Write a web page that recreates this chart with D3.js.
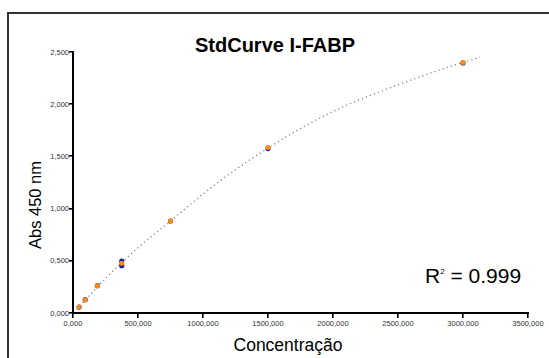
<!DOCTYPE html>
<meta charset="utf-8">
<style>
    body { margin: 0; background: #fff; }
    svg text { font-family: "Liberation Sans", Arial, sans-serif; }
</style>
<svg width="549" height="358"></svg>
<script src="https://cdnjs.cloudflare.com/ajax/libs/d3/7.8.5/d3.min.js"></script>
<script>

    // standard concentrations and the replicate absorbances
    const conc = [46.875, 93.75, 187.5, 375, 750, 1500, 3000];
    const absRep1 = [0.057, 0.128, 0.262, 0.453, 0.881, 1.575, 2.395];
    const absRep2 = [0.057, 0.128, 0.262, 0.476, 0.881, 1.585, 2.400];
    const extraConc = [375];
    const extraAbs = [0.498];

    // fitted curve
    const fitConc = [30, 250, 500, 750, 1000, 1500, 2000, 2500, 3000, 3130];
    const fitAbs = [0.035, 0.33, 0.625, 0.88, 1.14, 1.58, 1.93, 2.185, 2.4, 2.45];

    const xTicks = [0, 500, 1000, 1500, 2000, 2500, 3000, 3500];
    const yTicks = [0, 0.5, 1, 1.5, 2, 2.5];

    var svg = d3.select("svg");

    // frame (left + top only)
    svg.append("rect").attr("x", 7).attr("y", 12).attr("width", 2).attr("height", 346).attr("fill", "#333");
    svg.append("rect").attr("x", 7).attr("y", 12).attr("width", 542).attr("height", 2).attr("fill", "#333");

    var x = d3.scaleLinear().domain([0, 3500]).range([73, 528]);
    var y = d3.scaleLinear().domain([0, 2.5]).range([313, 52]);

    const loc = d3.formatLocale({decimal: ",", thousands: "", grouping: [3], currency: ["", ""]});
    const fmt = loc.format(".3f");

    // axis lines as filled rects so they come out solid
    var axes = svg.append("g").attr("fill", "#000");
    axes.append("rect")
        .attr("x", x(0) - 1).attr("y", Math.round(y(2.5)) - 1)
        .attr("width", 2).attr("height", y(0) - y(2.5) + 2);
    axes.append("rect")
        .attr("x", x(0) - 1).attr("y", y(0) - 1)
        .attr("width", x(3500) - x(0) + 2).attr("height", 2);
    axes.selectAll(".xt")
        .data(xTicks)
        .enter().append("rect")
        .attr("x", function(d) { return Math.round(x(d)) - 1; })
        .attr("y", y(0))
        .attr("width", 1.6).attr("height", 5);
    axes.selectAll(".yt")
        .data(yTicks)
        .enter().append("rect")
        .attr("x", x(0) - 4)
        .attr("y", function(d) { return Math.round(y(d)) - 1; })
        .attr("width", 4).attr("height", 1.6);

    svg.append("g")
        .attr("fill", "#333")
        .style("font-size", "7.5px")
        .attr("text-anchor", "middle")
        .selectAll("text")
        .data(xTicks)
        .enter().append("text")
        .attr("x", function(d) { return x(d); })
        .attr("y", y(0) + 13)
        .text(fmt);

    svg.append("g")
        .attr("fill", "#333")
        .style("font-size", "7.5px")
        .attr("text-anchor", "end")
        .selectAll("text")
        .data(yTicks)
        .enter().append("text")
        .attr("x", x(0) - 4)
        .attr("y", function(d) { return y(d) + 2.5; })
        .text(fmt);

    // fitted curve
    var fitData = fitConc.map(function(c, i) { return [c, fitAbs[i]]; });
    svg.append("path")
        .datum(fitData)
        .attr("fill", "none")
        .attr("stroke", "#8a8a8a")
        .attr("stroke-width", 1.3)
        .attr("stroke-dasharray", "1.3 3")
        .attr("d", d3.line()
            .x(function(d) { return x(d[0]); })
            .y(function(d) { return y(d[1]); })
            .curve(d3.curveMonotoneX));

    // replicate points
    var rep1 = conc.map(function(c, i) { return [c, absRep1[i]]; })
        .concat(extraConc.map(function(c, i) { return [c, extraAbs[i]]; }));
    svg.append("g").selectAll("circle")
        .data(rep1)
        .enter().append("circle")
        .attr("cx", function(d) { return x(d[0]); })
        .attr("cy", function(d) { return y(d[1]); })
        .attr("r", 2.6)
        .attr("fill", "#1c1c9c");

    svg.append("g").selectAll("circle")
        .data(conc.map(function(c, i) { return [c, absRep2[i]]; }))
        .enter().append("circle")
        .attr("cx", function(d) { return x(d[0]); })
        .attr("cy", function(d) { return y(d[1]); })
        .attr("r", 2.5)
        .attr("fill", "#ff8a10");

    // titles
    svg.append("text")
        .attr("x", 275).attr("y", 52)
        .attr("text-anchor", "middle")
        .style("font-size", "20px").style("font-weight", "bold")
        .text("StdCurve I-FABP");

    svg.append("text")
        .attr("transform", "translate(41,205) rotate(-90)")
        .attr("text-anchor", "middle")
        .style("font-size", "16.5px")
        .text("Abs 450 nm");

    svg.append("text")
        .attr("x", 288).attr("y", 351)
        .attr("text-anchor", "middle")
        .style("font-size", "17.5px")
        .text("Concentração");

    var r2 = svg.append("text")
        .attr("x", 425).attr("y", 283)
        .style("font-size", "21px");
    r2.append("tspan").text("R");
    r2.append("tspan").attr("dy", -9).style("font-size", "8px").text("2");
    r2.append("tspan").attr("dy", 9).text(" = 0.999");

</script>
